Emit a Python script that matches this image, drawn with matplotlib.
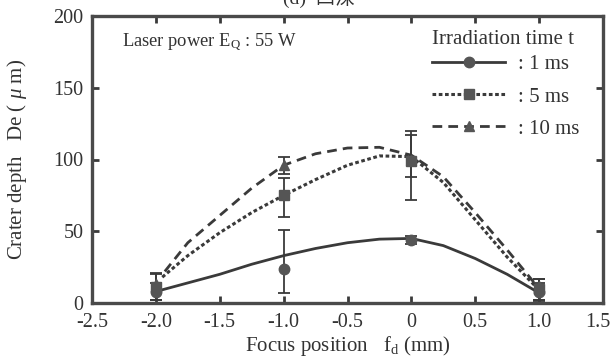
import matplotlib
matplotlib.use("Agg")
import matplotlib.pyplot as plt
import matplotlib.transforms as mtransforms
from matplotlib.lines import Line2D

plt.rcParams['font.family'] = ['Liberation Serif', 'Noto Sans CJK JP', 'DejaVu Sans']
plt.rcParams['mathtext.fontset'] = 'custom'
plt.rcParams['mathtext.rm'] = 'Liberation Serif'
plt.rcParams['mathtext.it'] = 'Liberation Serif:italic'

# ---- data ----
focus = [-2.0, -1.0, 0.0, 1.0]
depth_1ms = [8, 24, 44, 8]
depth_5ms = [11, 75, 99, 10]
depth_10ms = [13, 96, 100, 12]
err_1ms_lo = [6, 17, 3, 6]
err_1ms_hi = [6, 27, 3, 6]
err_5ms_lo = [9, 15, 27, 9]
err_5ms_hi = [9, 12, 21, 7]
err_10ms_lo = [11, 6, 12, 10]
err_10ms_hi = [8, 6, 17, 5]

curve_x = [-2.0, -1.75, -1.5, -1.25, -1.0, -0.75, -0.5, -0.25, 0.0, 0.25, 0.5, 0.75, 1.0]
curve_1ms = [8, 14, 20, 27, 33, 38, 42, 44.5, 45, 40, 31, 20, 7]
curve_5ms_x = [-1.95, -1.75, -1.5, -1.25, -1.0, -0.75, -0.5, -0.25, 0.0, 0.25, 0.5, 0.75, 1.0]
curve_5ms = [18, 33, 49, 63, 75, 86, 96, 102.5, 102, 84, 58, 32, 9]
curve_10ms_x = [-1.93, -1.75, -1.5, -1.25, -1.0, -0.75, -0.5, -0.25, 0.0, 0.25, 0.5, 0.75, 1.0]
curve_10ms = [22, 42, 61, 80, 96, 104, 108, 108.5, 103, 88, 63, 37, 10]

xticks = [-2.5, -2.0, -1.5, -1.0, -0.5, 0, 0.5, 1.0, 1.5]
xticklabels = ['-2.5', '-2.0', '-1.5', '-1.0', '-0.5', '0', '0.5', '1.0', '1.5']
yticks = [0, 50, 100, 150, 200]

col = '#3a3a3a'
mcol = '#555555'
tcol = '#333333'

fig = plt.figure(figsize=(6.13, 3.6), dpi=100)
ax = fig.add_axes([92/613, 1-303/360, (603-92)/613, (303-16)/360])

ls5 = (0, (1.2, 0.85))
ls10 = (0, (3.5, 2.2))
ax.plot(curve_x, curve_1ms, color=col, lw=2.0, ls='-')
ax.plot(curve_5ms_x, curve_5ms, color=col, lw=2.2, ls=ls5)
ax.plot(curve_10ms_x, curve_10ms, color=col, lw=2.0, ls=ls10)

ekw = dict(ecolor=col, elinewidth=1.3, capsize=4, capthick=1.3, ls='none', color=mcol, ms=7.5)
ax.errorbar(focus, depth_10ms, yerr=[err_10ms_lo, err_10ms_hi], marker='^', **ekw)
ax.errorbar(focus, depth_5ms, yerr=[err_5ms_lo, err_5ms_hi], marker='s', **ekw)
ax.errorbar(focus, depth_1ms, yerr=[err_1ms_lo, err_1ms_hi], marker='o', **ekw)

ax.set_xlim(-2.5, 1.5)
ax.set_ylim(0, 200)
ax.set_xticks(xticks)
ax.set_xticklabels(xticklabels)
ax.set_yticks(yticks)
ax.tick_params(direction='in', length=5, width=2, color=col, labelcolor=tcol,
               labelsize=14.5, top=True, right=True, labeltop=False, labelright=False, pad=6)
ax.tick_params(axis='x', pad=7)
for s in ax.spines.values():
    s.set_linewidth(2.4)
    s.set_color('#4a4a4a')

# nudge last x tick label so it stays inside the canvas
last = ax.get_xticklabels()[-1]
last.set_transform(last.get_transform() + mtransforms.ScaledTranslation(-5/100, 0, fig.dpi_scale_trans))

ax.set_xlabel('Focus position   f$_\\mathrm{d}$ (mm)', fontsize=15, color=tcol, labelpad=1.5)
ax.set_ylabel('Crater depth   De ( $\\mu$ m)', fontsize=15, color=tcol, labelpad=18)

ax.text(0.059, 0.909, 'Laser power E$_\\mathrm{Q}$ : 55 W', transform=ax.transAxes,
        fontsize=13.3, color=tcol, va='center', ha='left')

handles = [
    Line2D([], [], color=col, lw=2.0, ls='-', marker='o', ms=7.5, mfc=mcol, mec=mcol),
    Line2D([], [], color=col, lw=2.2, ls=ls5, marker='s', ms=7.5, mfc=mcol, mec=mcol),
    Line2D([], [], color=col, lw=2.0, ls=ls10, marker='^', ms=7.5, mfc=mcol, mec=mcol),
]
leg = ax.legend(handles, [': 1 ms', ': 5 ms', ': 10 ms'], title='Irradiation time t',
                loc='upper left', bbox_to_anchor=(0.666, 0.95), frameon=False, fontsize=15,
                title_fontsize=15, handlelength=3.5, handletextpad=0.6, labelspacing=0.6,
                borderaxespad=0.0, borderpad=0.0)
for t in leg.get_texts():
    t.set_color(tcol)
leg.get_title().set_color(tcol)
leg._legend_box.align = 'left'
leg._legend_box.sep = 4.0

fig.text(0.52, 1.005, '(d)  凹深', ha='center', va='center', fontsize=14, color=tcol)

fig.savefig('out.png', dpi=100, facecolor='white')
